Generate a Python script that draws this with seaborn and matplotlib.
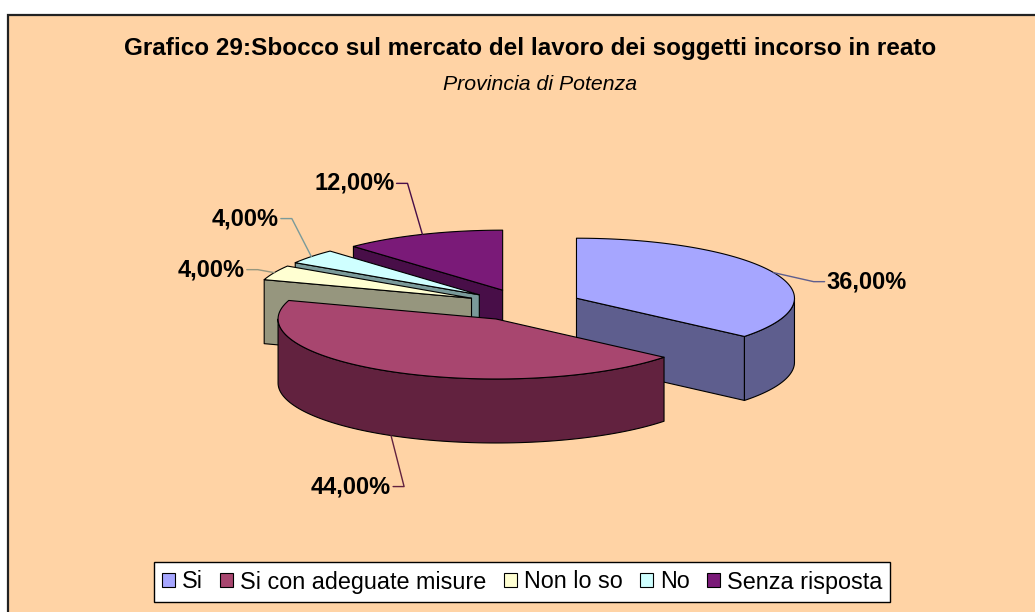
import numpy as np
import matplotlib
matplotlib.use("Agg")
import matplotlib.pyplot as plt
from matplotlib.patches import Polygon, Rectangle, Patch
import seaborn as sns

# dati
categorie = ['Si', 'Si con adeguate misure', 'Non lo so', 'No', 'Senza risposta']
percentuali = [36.0, 44.0, 4.0, 4.0, 12.0]
etichette = ['36,00%', '44,00%', '4,00%', '4,00%', '12,00%']

titolo = 'Grafico 29:Sbocco sul mercato del lavoro dei soggetti incorso in reato'
sottotitolo = 'Provincia di Potenza'

# stile
colori_top = sns.color_palette(['#A6A6FF', '#A8466F', '#FFFFD2', '#CFFFFF', '#7A1A78'])
colori_lato = sns.color_palette(['#5E5E8E', '#62223F', '#96967E', '#7A9A9A', '#480E48'])
off_etich = [(93, 9), (-40, 51), (-63, -3), (-66, -38), (-68, -51)]

sns.set_theme(style='white')
plt.rcParams['font.family'] = ['Liberation Sans', 'DejaVu Sans']
plt.rcParams['text.color'] = 'black'

W, H = 1035, 612
fig = plt.figure(figsize=(W / 100, H / 100), dpi=100)
ax = fig.add_axes([0, 0, 1, 1])
ax.set_xlim(0, W)
ax.set_ylim(H, 0)
ax.axis('off')

# area del grafico (bordo destro e inferiore fuori dall'immagine)
ax.add_patch(Rectangle((8, 14.5), W + 50, H + 50, facecolor='#FFD3A5',
                       edgecolor='#222222', lw=1.6, zorder=0))

ax.text(530, 48, titolo, ha='center', va='center', fontsize=17.5, fontweight='bold')
ax.text(540, 84, sottotitolo, ha='center', va='center', fontsize=15.3, style='italic')

# torta 3D
cx, cy = 524, 305
rx, ry = 218, 60
hh = 64
expl = 58


def punto(ox, oy, t, dz=0.0):
    r = np.deg2rad(t)
    return ox + rx * np.cos(r), oy - ry * np.sin(r) + dz


def arco(ox, oy, t0, t1, dz=0.0, n=90):
    tt = np.linspace(t0, t1, n)
    return [punto(ox, oy, t, dz) for t in tt]


perc = np.array(percentuali)
a_hi = 90 - 3.6 * np.concatenate([[0], np.cumsum(perc)[:-1]])
a_lo = a_hi - 3.6 * perc
mid = (a_hi + a_lo) / 2

ordine = np.argsort(-np.sin(np.deg2rad(mid)))
z = 2
apici = {}
for i in ordine:
    m = np.deg2rad(mid[i])
    ox = cx + expl * np.cos(m)
    oy = cy - expl * (ry / rx) * np.sin(m)
    apici[i] = (ox, oy)
    kw = dict(edgecolor='black', lw=0.8, joinstyle='round')
    # pareti radiali
    for t, vis in [(a_hi[i], np.cos(np.deg2rad(a_hi[i])) < -1e-6),
                   (a_lo[i], np.cos(np.deg2rad(a_lo[i])) > 1e-6)]:
        if vis:
            p1 = punto(ox, oy, t)
            p2 = punto(ox, oy, t, hh)
            ax.add_patch(Polygon([(ox, oy), p1, p2, (ox, oy + hh)],
                                 facecolor=colori_lato[i], zorder=z, **kw))
            z += 1
    # parete curva (solo metà frontale)
    lo = a_lo[i] % 360
    hi = lo + (a_hi[i] - a_lo[i])
    for s0, s1 in [(180, 360), (540, 720)]:
        t0, t1 = max(lo, s0), min(hi, s1)
        if t1 > t0:
            sup = arco(ox, oy, t0, t1)
            inf = arco(ox, oy, t0, t1, hh)[::-1]
            ax.add_patch(Polygon(sup + inf, facecolor=colori_lato[i], zorder=z, **kw))
            z += 1
    # faccia superiore
    ax.add_patch(Polygon([(ox, oy)] + arco(ox, oy, a_lo[i], a_hi[i]),
                         facecolor=colori_top[i], zorder=z, **kw))
    z += 1

# etichette con linee guida
fig.canvas.draw()
rend = fig.canvas.get_renderer()
for i in range(len(categorie)):
    ox, oy = apici[i]
    dz = hh if np.sin(np.deg2rad(mid[i])) < 0 else 0
    axp, ayp = punto(ox, oy, mid[i], dz)
    lx, ly = axp + off_etich[i][0], ayp + off_etich[i][1]
    txt = ax.text(lx, ly, etichette[i], ha='center', va='center', fontsize=17,
                  fontweight='bold', color='black', zorder=50)
    bb = txt.get_window_extent(rend)
    half = bb.width / 2
    if axp > lx:
        x0, x1 = lx + half + 2, lx + half + 13
    else:
        x0, x1 = lx - half - 2, lx - half - 13
    ax.plot([x0, x1, axp], [ly, ly, ayp], color=colori_lato[i], lw=1, zorder=40)

# legenda
maniglie = [Patch(facecolor=colori_top[i], edgecolor='black', lw=0.8, label=categorie[i])
            for i in range(len(categorie))]
leg = ax.legend(handles=maniglie, loc='center', bbox_to_anchor=(522 / W, 1 - 582 / H),
                ncol=5, fontsize=16.8, frameon=True, fancybox=False, handlelength=0.55,
                handleheight=0.55, handletextpad=0.3, columnspacing=0.75,
                borderpad=0.35, edgecolor='black', labelcolor='black')
leg.get_frame().set_linewidth(1.0)
leg.get_frame().set_facecolor('white')
leg.get_frame().set_alpha(1)

fig.savefig('out.png', dpi=100)
